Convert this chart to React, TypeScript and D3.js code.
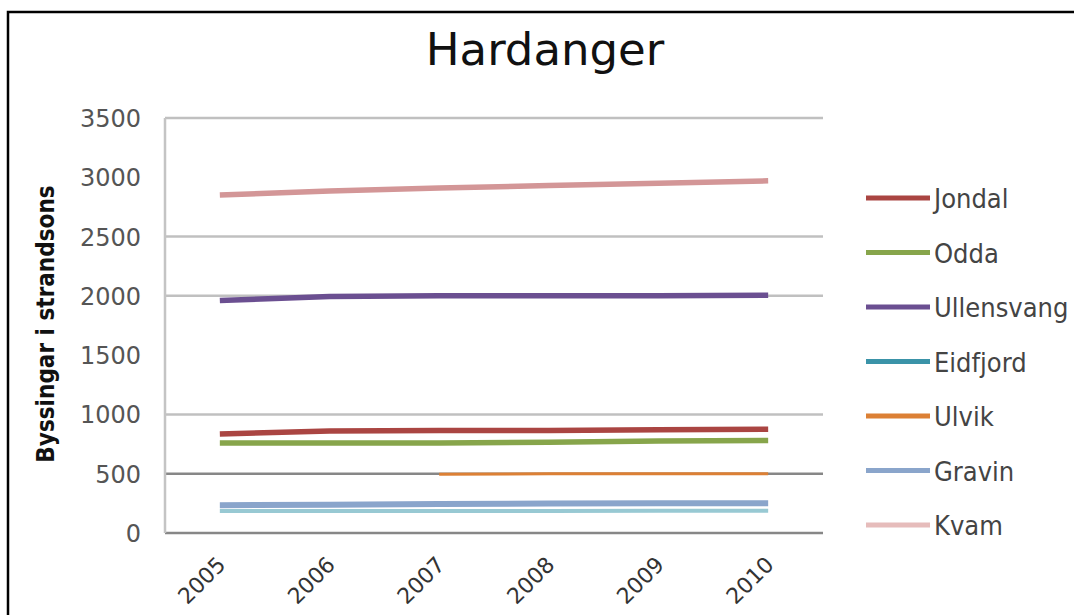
import React from "react";
import * as d3 from "d3";

const years = ["2005", "2006", "2007", "2008", "2009", "2010"];
const seriesNames = ["Jondal", "Odda", "Ullensvang", "Eidfjord", "Ulvik", "Gravin", "Kvam"];
const jondal = [835, 860, 865, 865, 870, 875];
const odda = [760, 760, 760, 765, 775, 780];
const ullensvang = [1960, 1995, 2000, 2000, 2000, 2005];
const eidfjord = [185, 185, 185, 186, 188, 188];
// Ulvik has no figures before 2007
const ulvik = [null, null, 495, 500, 500, 500];
const gravin = [235, 238, 245, 248, 250, 250];
const kvam = [2850, 2885, 2910, 2930, 2950, 2970];
const yTicks = [0, 500, 1000, 1500, 2000, 2500, 3000, 3500];
const lineColors = ["#aa4542", "#87a54b", "#6b4f91", "#98c9d3", "#dc8035", "#8aa5cb", "#d39697"];
const legendColors = ["#aa4542", "#87a54b", "#6b4f91", "#3a93a8", "#dc8035", "#8aa5cb", "#e6bcbb"];
const lineWidths = [5.5, 5.5, 5.5, 4, 3, 6, 5.5];

const allSeries: (number | null)[][] = [jondal, odda, ullensvang, eidfjord, ulvik, gravin, kvam];
// drawing order: Eidfjord sits underneath Gravin
const drawOrder = [6, 2, 0, 1, 4, 3, 5];

const W = 1074;
const H = 615;
const plot = { left: 165, right: 823, top: 118, bottom: 533 };

export default function App() {
  const x = d3.scaleBand<string>().domain(years).range([plot.left, plot.right]);
  const y = d3.scaleLinear().domain([0, 3500]).range([plot.bottom, plot.top]);
  const cx = (yr: string) => (x(yr) ?? 0) + x.bandwidth() / 2;
  const line = d3
    .line<number | null>()
    .defined((v) => v != null)
    .x((_, i) => cx(years[i]))
    .y((v) => y(v as number));

  const narrow = "'DejaVu Sans Condensed', 'Liberation Sans Narrow', sans-serif";
  const wide = "'DejaVu Sans', sans-serif";
  const gridDark = new Set([0, 500]);
  const gridHidden = new Set([1500, 3000]);

  return (
    <svg
      width={W}
      height={H}
      style={{ position: "absolute", left: 0, top: 0, background: "#fff" }}
    >
      <rect x={8} y={12} width={1200} height={800} fill="#fff" stroke="#000" strokeWidth={2.5} />
      <text x={545} y={65} textAnchor="middle" fontFamily={wide} fontSize={45} fill="#111">
        Hardanger
      </text>

      {/* gridlines */}
      {yTicks
        .filter((t) => !gridHidden.has(t))
        .map((t) => (
          <line
            key={t}
            x1={plot.left}
            x2={plot.right}
            y1={y(t)}
            y2={y(t)}
            stroke={gridDark.has(t) ? "#878787" : "#c0c0c0"}
            strokeWidth={2.5}
          />
        ))}
      <line x1={plot.left} x2={plot.left} y1={plot.top} y2={plot.bottom} stroke="#c4c4c4" strokeWidth={2.5} />

      {/* y tick labels */}
      {yTicks.map((t) => (
        <text
          key={t}
          x={141}
          y={y(t) + 9}
          textAnchor="end"
          fontFamily={wide}
          fontSize={24}
          fill="#555"
        >
          {t}
        </text>
      ))}

      <text
        transform={`translate(54, 324) rotate(-90)`}
        textAnchor="middle"
        fontFamily={narrow}
        fontSize={24}
        fontWeight="bold"
        fill="#111"
      >
        Byssingar i strandsons
      </text>

      {/* x labels */}
      {years.map((yr) => (
        <text
          key={yr}
          transform={`translate(${cx(yr) + 7}, 566) rotate(-45)`}
          textAnchor="end"
          fontFamily={wide}
          fontSize={22}
          fill="#333"
        >
          {yr}
        </text>
      ))}

      {/* series */}
      {drawOrder.map((i) => (
        <path
          key={seriesNames[i]}
          d={line(allSeries[i]) ?? ""}
          fill="none"
          stroke={lineColors[i]}
          strokeWidth={lineWidths[i]}
        />
      ))}

      {/* legend */}
      {seriesNames.map((n, i) => {
        const ly = 198 + i * 54.5;
        return (
          <g key={n}>
            <line x1={866} x2={930} y1={ly} y2={ly} stroke={legendColors[i]} strokeWidth={5} />
            <text x={934} y={ly + 10} fontFamily={narrow} fontSize={27} fill="#444">
              {n}
            </text>
          </g>
        );
      })}
    </svg>
  );
}
